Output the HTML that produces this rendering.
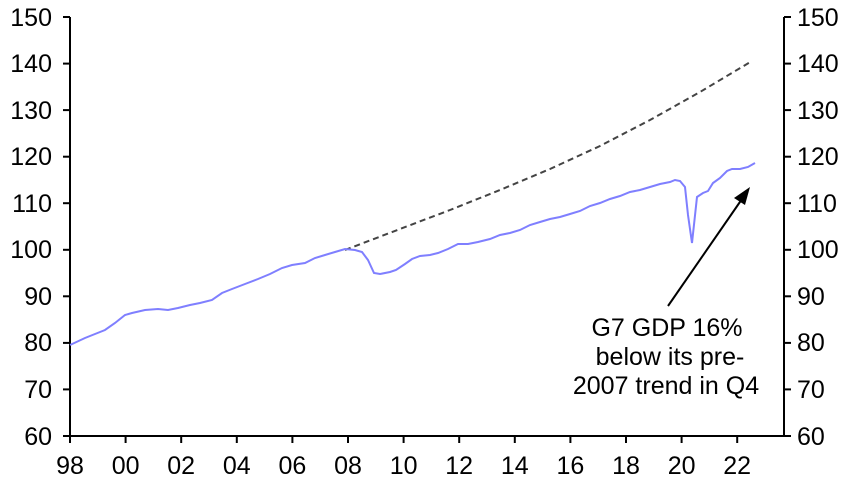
<!DOCTYPE html>
<html><head><style>body{margin:0;background:#fff}svg{display:block}text{font-family:"Liberation Sans",Arial,sans-serif;font-size:25px;fill:#000}</style></head>
<body>
<svg width="854" height="480" viewBox="0 0 854 480">
<g stroke="#000" stroke-width="2" fill="none">
<line x1="70" y1="17" x2="70" y2="437"/>
<line x1="784" y1="17" x2="784" y2="437"/>
<line x1="69" y1="436" x2="785" y2="436"/>
</g>
<g stroke="#000" stroke-width="2">
<line x1="63" y1="17" x2="70" y2="17"/><line x1="784" y1="17" x2="791" y2="17"/>
<line x1="63" y1="63.6" x2="70" y2="63.6"/><line x1="784" y1="63.6" x2="791" y2="63.6"/>
<line x1="63" y1="110.1" x2="70" y2="110.1"/><line x1="784" y1="110.1" x2="791" y2="110.1"/>
<line x1="63" y1="156.7" x2="70" y2="156.7"/><line x1="784" y1="156.7" x2="791" y2="156.7"/>
<line x1="63" y1="203.2" x2="70" y2="203.2"/><line x1="784" y1="203.2" x2="791" y2="203.2"/>
<line x1="63" y1="249.8" x2="70" y2="249.8"/><line x1="784" y1="249.8" x2="791" y2="249.8"/>
<line x1="63" y1="296.3" x2="70" y2="296.3"/><line x1="784" y1="296.3" x2="791" y2="296.3"/>
<line x1="63" y1="342.9" x2="70" y2="342.9"/><line x1="784" y1="342.9" x2="791" y2="342.9"/>
<line x1="63" y1="389.4" x2="70" y2="389.4"/><line x1="784" y1="389.4" x2="791" y2="389.4"/>
<line x1="63" y1="436" x2="70" y2="436"/><line x1="784" y1="436" x2="791" y2="436"/>
<line x1="70" y1="436" x2="70" y2="443"/><line x1="125.6" y1="436" x2="125.6" y2="443"/>
<line x1="181.2" y1="436" x2="181.2" y2="443"/><line x1="236.8" y1="436" x2="236.8" y2="443"/>
<line x1="292.4" y1="436" x2="292.4" y2="443"/><line x1="348" y1="436" x2="348" y2="443"/>
<line x1="403.6" y1="436" x2="403.6" y2="443"/><line x1="459.2" y1="436" x2="459.2" y2="443"/>
<line x1="514.8" y1="436" x2="514.8" y2="443"/><line x1="570.4" y1="436" x2="570.4" y2="443"/>
<line x1="626" y1="436" x2="626" y2="443"/><line x1="681.6" y1="436" x2="681.6" y2="443"/>
<line x1="737.2" y1="436" x2="737.2" y2="443"/>
</g>
<g text-anchor="end">
<text x="52" y="26">150</text><text x="52" y="72">140</text><text x="52" y="119">130</text>
<text x="52" y="165">120</text><text x="52" y="212">110</text><text x="52" y="258">100</text>
<text x="52" y="305">90</text><text x="52" y="351">80</text><text x="52" y="398">70</text><text x="52" y="445">60</text>
</g>
<g>
<text x="797" y="26">150</text><text x="797" y="72">140</text><text x="797" y="119">130</text>
<text x="797" y="165">120</text><text x="797" y="212">110</text><text x="797" y="258">100</text>
<text x="797" y="305">90</text><text x="797" y="351">80</text><text x="797" y="398">70</text><text x="797" y="445">60</text>
</g>
<g text-anchor="middle">
<text x="70" y="474">98</text><text x="125.6" y="474">00</text><text x="181.2" y="474">02</text>
<text x="236.8" y="474">04</text><text x="292.4" y="474">06</text><text x="348" y="474">08</text>
<text x="403.6" y="474">10</text><text x="459.2" y="474">12</text><text x="514.8" y="474">14</text>
<text x="570.4" y="474">16</text><text x="626" y="474">18</text><text x="681.6" y="474">20</text>
<text x="737.2" y="474">22</text>
</g>
<polyline fill="none" stroke="#444" stroke-width="2" stroke-dasharray="6,4" points="345,250 400,229 450,210 500,190 550,169 600,146 650,120 700,92 752,61"/>
<polyline fill="none" stroke="#7f7fff" stroke-width="2" points="70,345 85,338 95,334 105,330 115,323 125,315 132,313 145,310 158,309 168,310 178,308 190,305 200,303 212,300 222,293 232,289 245,284 258,279 270,274 282,268 292,265 305,263 315,258 325,255 335,252 345,249 355,250 362,252 368,260 374,273 380,274 390,272 396,270 405,264 412,259 420,256 430,255 438,253 448,249 458,244 468,244 478,242 490,239 500,235 510,233 520,230 530,225 540,222 550,219 560,217 570,214 580,211 590,206 600,203 610,199 620,196 630,192 640,190 650,187 660,184 670,182 675,180 680,181 685,187 688,215 692,243 697,197 703,193 708,191 713,183 720,178 727,171 732,169 740,169 748,167 755,163"/>
<line x1="668" y1="306" x2="742" y2="199" stroke="#000" stroke-width="2"/>
<polygon points="750,187 734,198 745,205" fill="#000"/>
<g text-anchor="middle" style="font-size:27px">
<text x="667" y="336">G7 GDP 16%</text>
<text x="670" y="365">below its pre-</text>
<text x="666" y="394">2007 trend in Q4</text>
</g>
</svg>
</body></html>
